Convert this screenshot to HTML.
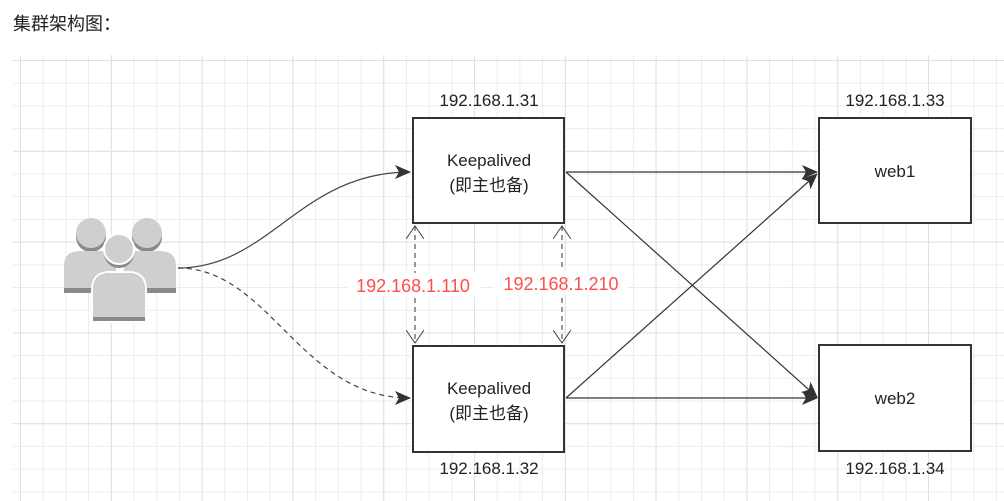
<!DOCTYPE html>
<html><head><meta charset="utf-8"><style>
body{margin:0;background:#fff;width:1004px;height:501px;overflow:hidden;font-family:"Liberation Sans","Noto Sans CJK SC",sans-serif}
</style></head><body>
<svg width="1004" height="501" xmlns="http://www.w3.org/2000/svg" style="position:absolute;left:0;top:0">
<defs>
<pattern id="g" x="20" y="60" width="22.7" height="22.7" patternUnits="userSpaceOnUse">
<path d="M0 0.5H22.7M0.5 0V22.7" stroke="#ececec" stroke-width="1" fill="none"/>
</pattern>
<pattern id="G" x="20" y="60" width="90.8" height="90.8" patternUnits="userSpaceOnUse">
<path d="M0 0.5H90.8M0.5 0V90.8" stroke="#e0e0e0" stroke-width="1" fill="none"/>
</pattern>
<marker id="a" markerWidth="16" markerHeight="14" refX="15" refY="7" orient="auto" markerUnits="userSpaceOnUse"><path d="M0 0L16 7L0 14L4 7Z" fill="#333"/></marker>
<marker id="o" markerWidth="14" markerHeight="18" refX="13" refY="9" orient="auto-start-reverse" markerUnits="userSpaceOnUse"><path d="M0 0L13 9L0 18" fill="none" stroke="#444" stroke-width="1"/></marker>
</defs>
<text x="13" y="30" font-size="18" fill="#222" font-family="Noto Sans CJK SC,sans-serif">集群架构图：</text>
<rect x="13" y="55" width="991" height="446" fill="url(#g)"/>
<rect x="13" y="55" width="991" height="446" fill="url(#G)"/>
<g fill="#cfcfcf">
<circle cx="91" cy="237" r="15" fill="#8a8a8a"/><circle cx="91" cy="233" r="15"/>
<circle cx="147" cy="237" r="15" fill="#8a8a8a"/><circle cx="147" cy="233" r="15"/>
<path d="M64 293V268Q64 253 80 253H102Q110 253 116 262V293Z" fill="#8a8a8a"/>
<path d="M64 288V266Q64 251 80 251H102Q110 251 116 260V288Z"/>
<path d="M124 293V262Q130 253 138 253H160Q176 253 176 268V293Z" fill="#8a8a8a"/>
<path d="M124 288V260Q130 251 138 251H160Q176 251 176 266V288Z"/>
<circle cx="119" cy="253" r="15" fill="#8a8a8a"/><circle cx="119" cy="249" r="15" stroke="#fff" stroke-width="2"/>
<path d="M92 322V290Q92 272 110 272H128Q146 272 146 290V322Z" fill="#8a8a8a" stroke="#fff" stroke-width="2"/>
<path d="M93 317V290Q93 273 110 273H128Q145 273 145 290V317Z"/>
</g>
<path d="M178 268C270 268 300 172 410 172" stroke="#444" stroke-width="1.2" fill="none" marker-end="url(#a)"/>
<path d="M178 268C270 268 300 398 410 398" stroke="#444" stroke-width="1.2" fill="none" stroke-dasharray="5,4" marker-end="url(#a)"/>
<line x1="415" y1="226" x2="415" y2="343" stroke="#555" stroke-width="1.2" stroke-dasharray="5,4" marker-start="url(#o)" marker-end="url(#o)"/>
<line x1="562" y1="226" x2="562" y2="343" stroke="#555" stroke-width="1.2" stroke-dasharray="5,4" marker-start="url(#o)" marker-end="url(#o)"/>
<g stroke="#333" stroke-width="1.2" marker-end="url(#a)">
<line x1="566" y1="172" x2="817" y2="172"/>
<line x1="566" y1="172" x2="817" y2="397"/>
<line x1="566" y1="398" x2="817" y2="174"/>
<line x1="566" y1="398" x2="817" y2="398"/>
</g>
<g fill="#fff" stroke="#333" stroke-width="2">
<rect x="413" y="118" width="151" height="105"/>
<rect x="413" y="346" width="151" height="106"/>
<rect x="819" y="118" width="152" height="105"/>
<rect x="819" y="345" width="152" height="106"/>
</g>
<g font-size="17" fill="#222" text-anchor="middle" font-family="Liberation Sans,Noto Sans CJK SC,sans-serif">
<text x="489" y="106">192.168.1.31</text>
<text x="489" y="166">Keepalived</text><text x="489" y="191">(即主也备)</text>
<text x="489" y="394">Keepalived</text><text x="489" y="419">(即主也备)</text>
<text x="489" y="474">192.168.1.32</text>
<text x="895" y="106">192.168.1.33</text>
<text x="895" y="177">web1</text>
<text x="895" y="404">web2</text>
<text x="895" y="474">192.168.1.34</text>
</g>
<rect x="347" y="273" width="132" height="24" fill="#fff"/>
<rect x="494" y="271" width="134" height="24" fill="#fff"/>
<g font-size="18" fill="#ff4d4d" text-anchor="middle">
<text x="413" y="292">192.168.1.110</text>
<text x="561" y="290">192.168.1.210</text>
</g>
</svg>
</body></html>
